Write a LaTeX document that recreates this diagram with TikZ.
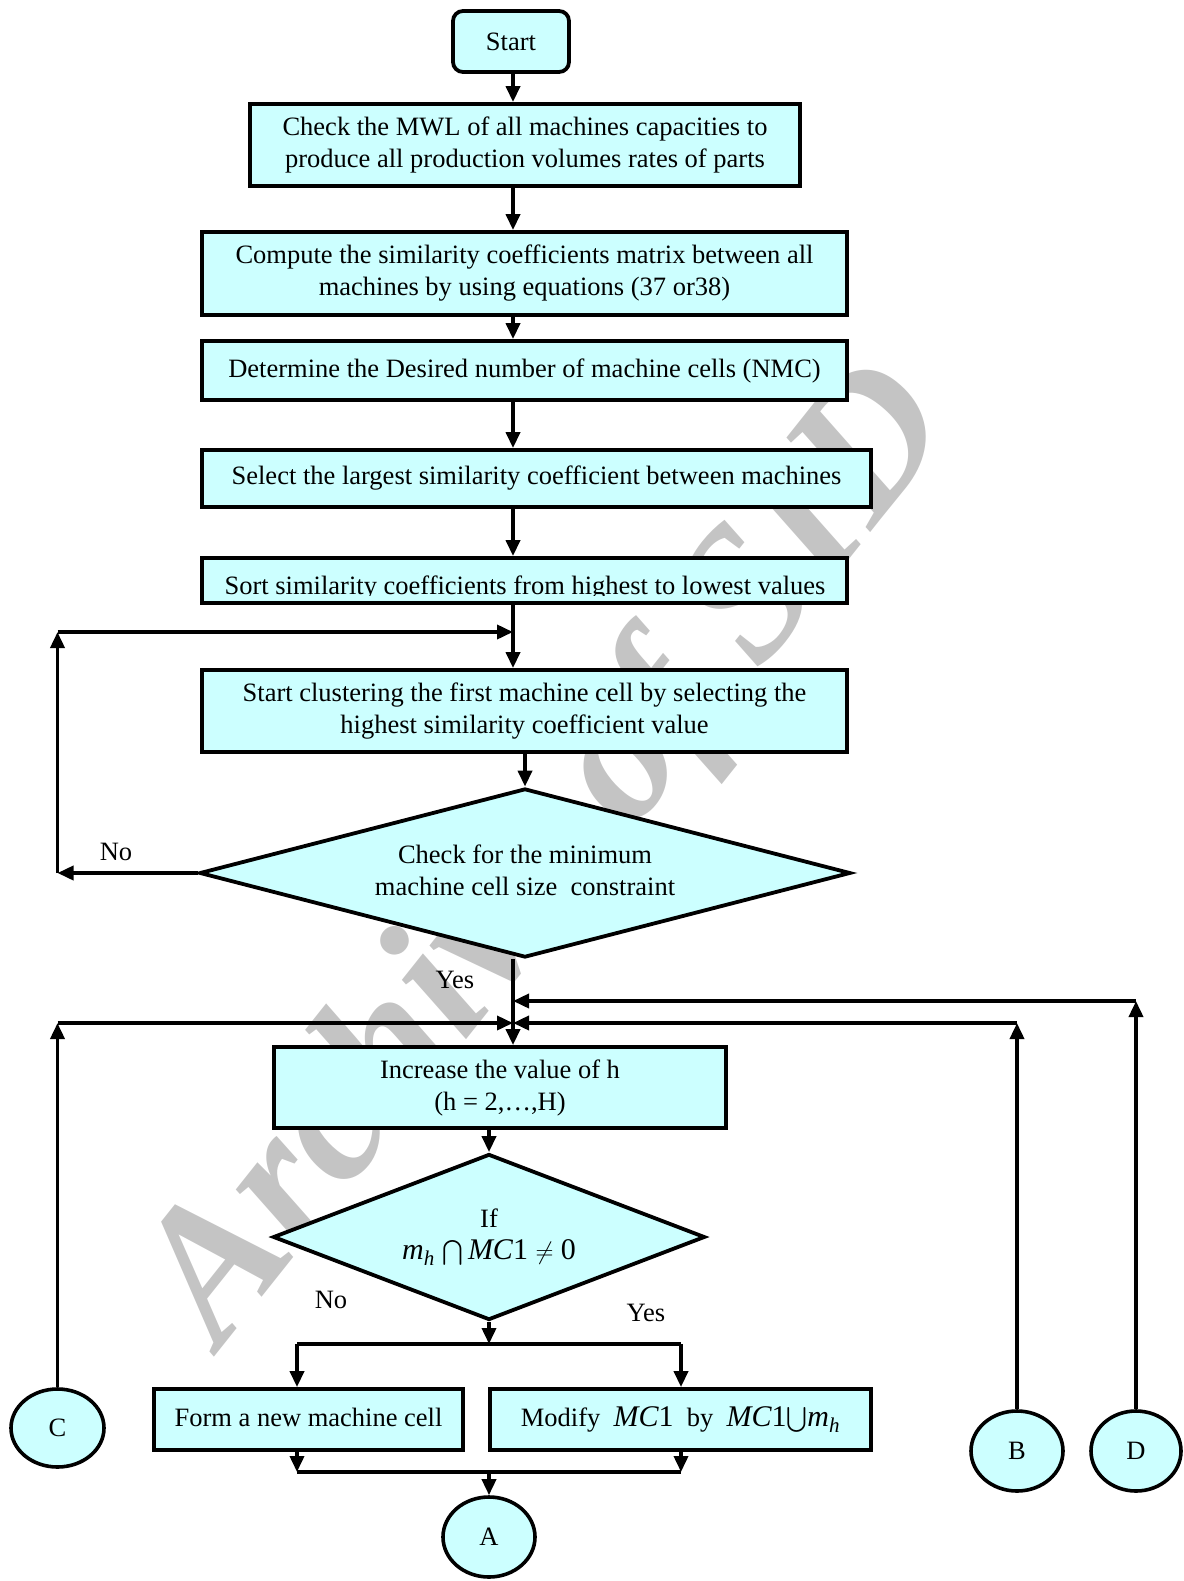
\documentclass[tikz,border=0pt]{standalone}
\usepackage{amsmath}
\usepackage{fontspec}
\setmainfont{Liberation Serif}
\usetikzlibrary{shapes.geometric,arrows.meta}
\definecolor{cfill}{RGB}{204,255,255}
\definecolor{wmgray}{RGB}{196,196,196}
\newcommand\msz{\fontsize{26.5}{32}\selectfont}
\newcommand\mathsz{\fontsize{30}{34}\selectfont}
\tikzset{
  box/.style={draw, line width=3.8pt, fill=cfill, inner sep=0pt, align=center, font=\msz},
  dia/.style={draw, diamond, line width=3.8pt, fill=cfill, inner sep=0pt, align=center, font=\msz},
  conn/.style={draw, ellipse, line width=3.6pt, fill=cfill, inner sep=0pt, font=\msz},
  arr/.style={line width=3.6pt, -{Triangle[length=16pt,width=14pt]}},
  ln/.style={line width=3.6pt},
  lbl/.style={font=\msz, inner sep=0pt}
}
\begin{document}
\begin{tikzpicture}[x=1pt,y=-1pt]
\useasboundingbox (0,0) rectangle (1183,1581);
% watermark (behind everything)
\node[rotate=51.5, text=wmgray, font=\fontsize{190}{190}\selectfont\bfseries\itshape, inner sep=0pt] (wm) at (552,858) {Archive of SID};
% nodes
\node[box, rounded corners=10pt, minimum width=116pt, minimum height=61pt] (start) at (511,41.5) {Start};
\node[box, minimum width=550pt, minimum height=82pt] (b1) at (525,145) {Check the MWL of all machines capacities to\\produce all production volumes rates of parts};
\node[box, minimum width=645pt, minimum height=83pt] (b2) at (524.5,273.5) {Compute the similarity coefficients matrix between all\\machines by using equations (37 or38)};
\node[box, minimum width=645pt, minimum height=59pt] (b3) at (524.5,370.5) {Determine the Desired number of machine cells (NMC)};
\node[box, minimum width=669pt, minimum height=57pt] (b4) at (536.5,478.5) {Select the largest similarity coefficient between machines};
\node[box, minimum width=645pt, minimum height=45pt] (b5) at (524.5,580.5) {};
\begin{scope}
  \clip (200,556) rectangle (849,595);
  \node[lbl, anchor=base] (b5t) at (525,594) {Sort similarity coefficients from highest to lowest values};
\end{scope}
\node[box, minimum width=645pt, minimum height=82pt] (b6) at (524.5,711) {Start clustering the first machine cell by selecting the\\highest similarity coefficient value};
\node[dia, minimum width=651pt, minimum height=169pt, aspect=3.8] (d1) at (525,873) {\raisebox{3pt}{\begin{tabular}{@{}c@{}}Check for the minimum\\machine cell size\ \ constraint\end{tabular}}};
\node[box, minimum width=452pt, minimum height=81pt] (b7) at (500,1087.5) {Increase the value of h\\(h = 2,…,H)};
\node[dia, minimum width=432pt, minimum height=166pt, aspect=2.6] (d2) at (489,1237) {If\\{\mathsz\itshape m\textsubscript{h} \upshape$\bigcap$\,\itshape MC\upshape1 $\neq$ 0}};
\node[box, minimum width=309pt, minimum height=61pt] (b8) at (308.5,1419.5) {\raisebox{4pt}{Form a new machine cell}};
\node[box, minimum width=381pt, minimum height=61pt] (b9) at (680.5,1419.5) {Modify\ \ {\mathsz\itshape MC\upshape1}\ \ by\ \ {\mathsz\itshape MC\upshape1$\bigcup$\itshape m\textsubscript{h}}};
\node[conn, minimum width=92pt, minimum height=80pt] (A) at (489,1537) {A};
\node[conn, minimum width=93pt, minimum height=78pt] (C) at (57.5,1428) {C};
\node[conn, minimum width=92pt, minimum height=80pt] (B) at (1017,1451) {B};
\node[conn, minimum width=90pt, minimum height=80pt] (D) at (1136,1451) {D};
% labels
\node[lbl] (no1) at (116,852) {No};
\node[lbl] (yes1) at (455,980) {Yes};
\node[lbl] (no2) at (331,1300) {No};
\node[lbl] (yes2) at (646,1313) {Yes};
% coordinates
\coordinate (mx) at (513,0);
\coordinate (lp) at (57.5,632);
\coordinate (lpb) at (57.5,873);
\coordinate (yd) at (0,1001);
\coordinate (yb) at (0,1023);
\coordinate (s1) at (489,1344);
\coordinate (s1l) at (297,1344);
\coordinate (s1r) at (681,1344);
\coordinate (s2) at (489,1472);
\coordinate (s2l) at (297,1472);
\coordinate (s2r) at (681,1472);
% connectors main column
\draw[arr] (mx |- start.south) -- (mx |- b1.north);
\draw[arr] (mx |- b1.south) -- (mx |- b2.north);
\draw[arr] (mx |- b2.south) -- (mx |- b3.north);
\draw[arr] (mx |- b3.south) -- (mx |- b4.north);
\draw[arr] (mx |- b4.south) -- (mx |- b5.north);
\draw[arr] (mx |- b5.south) -- (mx |- b6.north);
\draw[arr] (d1.north |- b6.south) -- (d1.north);
% No loop
\draw[arr] (d1.west) -- (lpb);
\draw[arr] (lpb) -- (lp);
\draw[arr] (lp) -- (mx |- lp);
% Yes
\draw[arr] (mx |- d1.south) -- (mx |- b7.north);
% D, B, C returns
\draw[arr] (D.north) -- (D.north |- yd);
\draw[arr] (D.north |- yd) -- (mx |- yd);
\draw[arr] (B.north) -- (B.north |- yb);
\draw[arr] (B.north |- yb) -- (mx |- yb);
\draw[arr] (C.north) -- (C.north |- yb);
\draw[arr] (C.north |- yb) -- (mx |- yb);
% lower part
\draw[arr] (d2.north |- b7.south) -- (d2.north);
\draw[arr] (d2.south) -- (s1);
\draw[ln] (s1l) -- (s1r);
\draw[arr] (s1l) -- (s1l |- b8.north);
\draw[arr] (s1r) -- (s1r |- b9.north);
\draw[arr] (s2l |- b8.south) -- (s2l);
\draw[arr] (s2r |- b9.south) -- (s2r);
\draw[ln] (s2l) -- (s2r);
\draw[arr] (s2) -- (A.north);
\end{tikzpicture}
\end{document}
